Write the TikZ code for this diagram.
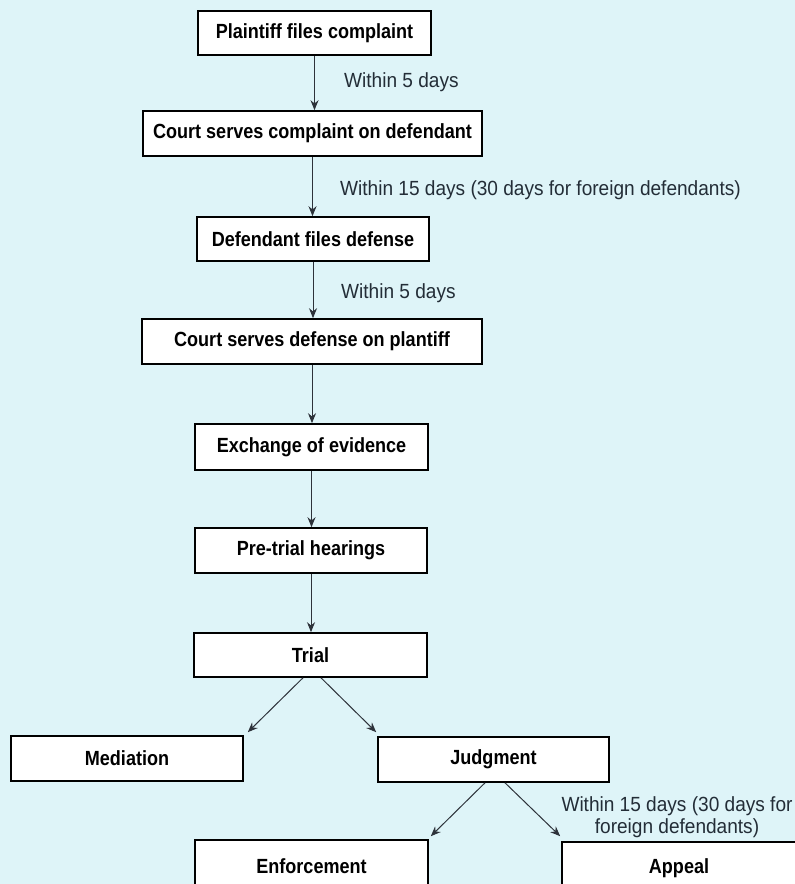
\documentclass[tikz,border=0pt]{standalone}
\usepackage{fontspec}
\setmainfont{Liberation Sans}[FakeStretch=0.88]
\newfontfamily\lblfont{Liberation Sans}[FakeStretch=0.93]
\usetikzlibrary{arrows.meta,calc}
\definecolor{bg}{RGB}{222,244,248}
\definecolor{arrc}{RGB}{45,50,58}
\definecolor{lblc}{RGB}{35,45,55}
\tikzset{
  stepbox/.style={draw=black,fill=white,line width=1.6pt,inner sep=0pt,
    font=\fontsize{20.5}{23}\selectfont\bfseries},
  arr/.style={draw=arrc,line width=1pt,-{Stealth[length=10pt,width=8pt]}},
  lbl/.style={text=lblc,inner sep=0pt,font=\lblfont\fontsize{20.5}{22}\selectfont}
}
\begin{document}
\begin{tikzpicture}[x=1pt,y=-1pt]
\useasboundingbox (0,0) rectangle (795,884);
\clip (0,0) rectangle (795,884);
\fill[bg] (0,0) rectangle (795,884);
\node[stepbox,minimum width=233pt,minimum height=44pt] (b1) at (314.5,33) {Plaintiff files complaint};
\node[stepbox,minimum width=339pt,minimum height=45pt] (b2) at (312.5,133.5) {Court serves complaint on defendant};
\node[stepbox,minimum width=232pt,minimum height=44pt] (b3) at (313,239) {Defendant files defense};
\node[stepbox,minimum width=340pt,minimum height=45pt] (b4) at (312,341.5) {Court serves defense on plantiff};
\node[stepbox,minimum width=233pt,minimum height=46pt] (b5) at (311.5,447) {Exchange of evidence};
\node[stepbox,minimum width=232pt,minimum height=45pt] (b6) at (311,550.5) {Pre-trial hearings};
\node[stepbox,minimum width=233pt,minimum height=44pt] (b7) at (310.5,655) {Trial};
\node[stepbox,minimum width=232pt,minimum height=45pt] (med) at (127,758.5) {Mediation};
\node[stepbox,minimum width=231pt,minimum height=45pt] (jud) at (493.5,759.5) {Judgment};
\node[stepbox,minimum width=233pt,minimum height=52pt] (enf) at (311.5,866) {Enforcement};
\node[stepbox,minimum width=234pt,minimum height=52pt] (app) at (679,868) {Appeal};
\draw[arr] (b1.south) -- (b1.south |- b2.north);
\draw[arr] (b2.south) -- (b2.south |- b3.north);
\draw[arr] (b3.south) -- (b3.south |- b4.north);
\draw[arr] (b4.south) -- (b4.south |- b5.north);
\draw[arr] (b5.south) -- (b5.south |- b6.north);
\draw[arr] (b6.south) -- (b6.south |- b7.north);
\draw[arr] ([xshift=-7.5pt]b7.south) -- ([xshift=4pt,yshift=3pt]med.north east);
\draw[arr] ([xshift=10.5pt]b7.south) -- ([xshift=-1pt,yshift=4pt]jud.north west);
\draw[arr] ([xshift=-8.5pt]jud.south) -- ([xshift=2pt,yshift=3pt]enf.north east);
\draw[arr] ([xshift=11.5pt]jud.south) -- ([xshift=-1pt,yshift=5pt]app.north west);
\node[lbl,anchor=west] (l1) at (344,82) {Within 5 days};
\node[lbl,anchor=west] (l2) at (340,190) {Within 15 days (30 days for foreign defendants)};
\node[lbl,anchor=west] (l3) at (341,293) {Within 5 days};
\node[lbl,align=center] (l4) at (677,817) {Within 15 days (30 days for\\foreign defendants)};
\end{tikzpicture}
\end{document}
